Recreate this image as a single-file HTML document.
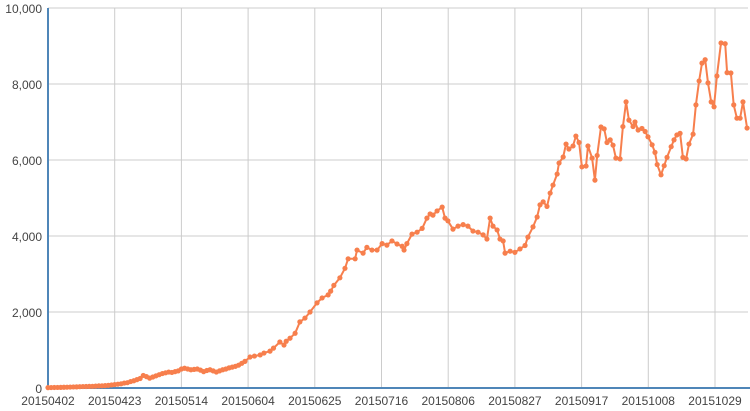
<!DOCTYPE html>
<html><head><meta charset="utf-8"><style>
html,body{margin:0;padding:0;background:#fff;}
svg{display:block;font-family:"Liberation Sans",Arial,sans-serif;}
</style></head><body>
<svg id="chart" width="750" height="411"></svg>
<script>
const tickDays=[0,21,42,63,84,105,126,147,168,189,210];
const tickLabels=["20150402","20150423","20150514","20150604","20150625","20150716","20150806","20150827","20150917","20151008","20151029"];
const yTicks=[0,2000,4000,6000,8000,10000];
const yTickLabels=["0","2,000","4,000","6,000","8,000","10,000"];
const days=[0,1,2,3,4,5,6,7,8,9,10,11,12,13,14,15,16,17,18,19,20,21,22,23,24,25,26,27,28,29,30,31,32,33,34,35,36,37,38,39,40,41,42,43,44,45,46,47,48,49,50,51,52,53,54,55,56,57,58,59,60,61,62,63.6,65,66.8,68,69.9,71,73,74.3,75,76.2,77.8,79.3,80.9,82.5,84.7,86.3,88.2,89,90,91.9,93.5,94.5,96.7,97.3,99.2,100.4,102,103.6,105.2,106.7,108.3,109.9,111.5,112.1,113,114.6,116.2,117.8,119.3,120.3,121.2,122.5,124.1,125,125.9,127.5,129.1,130.7,132.2,133.8,135.4,137,138.2,139.2,140.1,141.4,142.3,143.3,143.9,145.5,147,148.6,150.2,151.1,152.7,154,154.9,155.9,157.1,158.1,159,160.3,160.9,162.2,163.1,164,165.3,166.2,167.2,168.1,169.4,170,171.3,172.2,172.9,174.1,175.1,176,177,177.9,178.8,180.1,181,182,182.9,184.2,184.8,185.8,187,188,188.9,190.2,191.1,191.8,193,194,194.9,196.2,197.1,198,199,199.9,200.9,201.8,203.1,204,205,205.9,206.9,207.8,208.8,209.7,210.6,211.9,213.2,213.8,215,215.9,216.9,217.9,218.8,220.1];
const values=[10,12,14,15,17,20,22,25,28,30,35,38,40,42,45,50,55,58,62,70,80,90,100,110,130,140,170,190,220,250,330,300,260,290,320,350,380,400,420,410,430,450,500,520,500,480,490,500,470,430,460,480,450,420,450,480,500,530,550,570,600,650,700,815,840,870,920,970,1050,1210,1130,1230,1310,1440,1740,1840,2000,2240,2370,2450,2550,2700,2900,3150,3400,3400,3630,3550,3700,3630,3630,3800,3760,3870,3790,3730,3630,3800,4050,4100,4200,4470,4580,4550,4660,4760,4470,4400,4180,4260,4300,4260,4130,4100,4030,3920,4470,4260,4160,3920,3870,3550,3600,3570,3660,3750,3970,4240,4500,4820,4900,4780,5130,5340,5630,5920,6080,6420,6290,6370,6630,6460,5820,5840,6370,6050,5470,6120,6870,6820,6460,6530,6390,6050,6030,6880,7530,7050,6880,7000,6790,6830,6750,6610,6400,6200,5880,5610,5850,6070,6350,6530,6660,6700,6070,6030,6420,6680,7450,8080,8550,8640,8030,7530,7400,8210,9080,9060,8300,8290,7450,7100,7100,7530,6840];

const NS="http://www.w3.org/2000/svg";
const svg=document.getElementById('chart');
const X0=48,PXD=667/210,Y0=388,YTOP=8;
const xs=d=>X0+d*PXD;
const ys=v=>Y0-(v/10000)*(Y0-YTOP);
function mk(tag,attrs,parent){const e=document.createElementNS(NS,tag);for(const k in attrs)e.setAttribute(k,attrs[k]);(parent||svg).appendChild(e);return e;}

const grid=mk('g',{});


yTicks.forEach((v,i)=>{
  if(v>0){const l=mk('line',{x1:X0,x2:748,y1:ys(v),y2:ys(v),stroke:'#cccccc','stroke-width':1},grid);
  
  }
  const t=mk('text',{x:42,y:ys(v)+5,'text-anchor':'end','font-size':12,fill:'#444'});
  t.textContent=yTickLabels[i];
  
  
});
tickDays.forEach((d,i)=>{
  if(d>0){const l=mk('line',{x1:xs(d),x2:xs(d),y1:YTOP,y2:Y0,stroke:'#cccccc','stroke-width':1},grid);
  
  }
  const t=mk('text',{x:xs(d),y:405,'text-anchor':'middle','font-size':12,fill:'#444'});
  t.textContent=tickLabels[i];
  
  
});
const ya=mk('line',{x1:X0,x2:X0,y1:YTOP,y2:Y0+1,stroke:'#4f86b8','stroke-width':2});


const xa=mk('line',{x1:X0-1,x2:750,y1:Y0,y2:Y0,stroke:'#4f86b8','stroke-width':2});



const pts=days.map((d,i)=>xs(d).toFixed(1)+','+ys(values[i]).toFixed(1)).join(' ');
const line=mk('polyline',{points:pts,fill:'none',stroke:'#f77f4d','stroke-width':2,'stroke-linejoin':'round'});


const dots=mk('g',{fill:'#f77f4d'});


days.forEach((d,i)=>{
  const c=mk('circle',{cx:xs(d),cy:ys(values[i]),r:2.6},dots);
  
  
});
</script>
</body></html>
